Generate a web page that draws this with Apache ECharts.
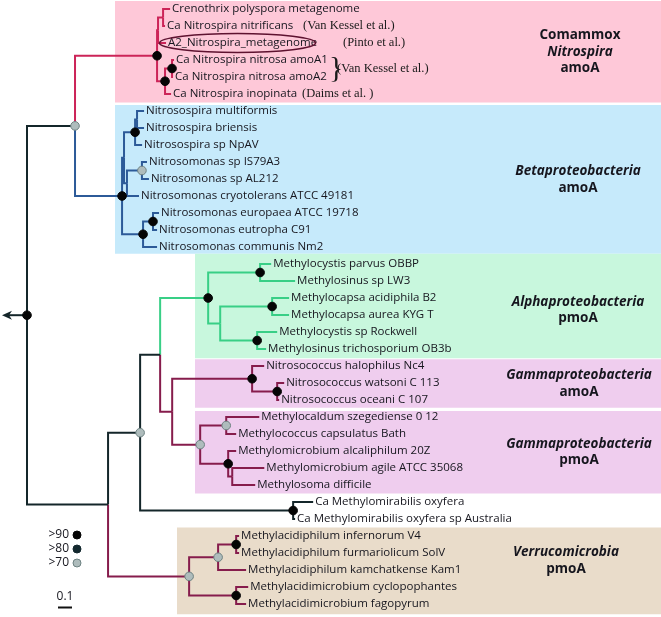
<!DOCTYPE html>
<html><head><meta charset="utf-8">
<script src="https://cdn.jsdelivr.net/npm/echarts@6/dist/echarts.min.js"></script>
<style>html,body{margin:0;padding:0;background:#fff}#c{width:661px;height:617px}</style>
</head><body><div id="c"></div>
<script>
// ---------------- DATA ----------------
// Tree in Newick form: branch lengths in substitutions/site, internal labels = "Clade|support"
// support codes: b = >90, k = >80, g = >70
const comammoxNewick = "(((Crenothrix polyspora metagenome:0.05,Ca Nitrospira nitrificans:0.014):0.036,A2_Nitrospira_metagenome:0.057):0.007,((Ca Nitrospira nitrosa amoA1:0.014,Ca Nitrospira nitrosa amoA2:0.007)b:0.05,Ca Nitrospira inopinata:0.043)b:0.057)Comammox|b:0.586";
const betaNewick = "((((Nitrosospira multiformis:0.05,Nitrosospira briensis:0.05):0.014,Nitrosospira sp NpAV:0.05)b:0.079,((Nitrosomonas sp IS79A3:0.036,Nitrosomonas sp AL212:0.05)g:0.107,Nitrosomonas cryotolerans ATCC 49181:0.086):0.021):0.014,((Nitrosomonas europaea ATCC 19718:0.043,Nitrosomonas eutropha C91:0.029)b:0.071,Nitrosomonas communis Nm2:0.1)b:0.15)Beta|b:0.336";
const alphaNewick = "((Methylocystis parvus OBBP:0.079,Methylosinus sp LW3:0.25)b:0.371,((Methylocapsa acidiphila B2:0.121,Methylocapsa aurea KYG T:0.121)b:0.371,(Methylocystis sp Rockwell:0.143,Methylosinus trichosporium OB3b:0.064)b:0.264):0.086)Alpha|b:0.343";
const gammaAmoNewick = "(Nitrosococcus halophilus Nc4:0.086,(Nitrosococcus watsoni C 113:0.05,Nitrosococcus oceani C 107:0.014)b:0.179)b:0.571";
const gammaPmoNewick = "((Methylocaldum szegediense 0 12:0.236,Methylococcus capsulatus Bath:0.071)g:0.186,(Methylomicrobium alcaliphilum 20Z:0.057,(Methylomicrobium agile ATCC 35068:0.229,Methylosoma difficile:0.164):0.029)b:0.2)g:0.2";
const mirabilisNewick = "(Ca Methylomirabilis oxyfera:0.143,Ca Methylomirabilis oxyfera sp Australia:0.014)b:1.093";
const verrucoNewick = "(((Methylacidiphilum infernorum V4:0.021,Methylacidiphilum furmariolicum SolV:0.021)b:0.129,Methylacidiphilum kamchatkense Kam1:0.2)g:0.207,(Methylacidimicrobium cyclopophantes:0.086,Methylacidimicrobium fagopyrum:0.071)b:0.336)Verruco|g:0.579";
const treeNewick =
  "((" + comammoxNewick + "," + betaNewick + ")g:0.343," +
  "(((" + alphaNewick + ",(" + gammaAmoNewick + "," + gammaPmoNewick + ")Gamma:0.086):0.143," +
  mirabilisNewick + ")g:0.229," + verrucoNewick + "):0.579)Root|b;";

const supportCodes = ['b', 'k', 'g'];
const supportLabels = ['>90', '>80', '>70'];
const scaleBarValue = 0.1;

const groups = [
  { first: 'Crenothrix polyspora metagenome', last: 'Ca Nitrospira inopinata', title: [['n','Comammox'],['i','Nitrospira'],['n','amoA']] },
  { first: 'Nitrosospira multiformis', last: 'Nitrosomonas communis Nm2', title: [['i','Betaproteobacteria'],['n','amoA']] },
  { first: 'Methylocystis parvus OBBP', last: 'Methylosinus trichosporium OB3b', title: [['i','Alphaproteobacteria'],['n','pmoA']] },
  { first: 'Nitrosococcus halophilus Nc4', last: 'Nitrosococcus oceani C 107', title: [['i','Gammaproteobacteria'],['n','amoA']] },
  { first: 'Methylocaldum szegediense 0 12', last: 'Methylosoma difficile', title: [['i','Gammaproteobacteria'],['n','pmoA']] },
  { first: 'Methylacidiphilum infernorum V4', last: 'Methylacidimicrobium fagopyrum', title: [['i','Verrucomicrobia'],['n','pmoA']] }
];
const citations = [
  { leaves: ['Ca Nitrospira nitrificans'], text: '(Van Kessel et al.)' },
  { leaves: ['A2_Nitrospira_metagenome'], text: '(Pinto et al.)' },
  { leaves: ['Ca Nitrospira nitrosa amoA1', 'Ca Nitrospira nitrosa amoA2'], text: '(Van Kessel et al.)' },
  { leaves: ['Ca Nitrospira inopinata'], text: '(Daims et al. )' }
];
const highlightedLeaf = 'A2_Nitrospira_metagenome';

// ---------------- STYLE ----------------
const cladeColors = { Root: '#14262a', Comammox: '#cc2458', Beta: '#2c5a98', Alpha: '#38cf86', Gamma: '#861c4c', Verruco: '#861c4c' };
const boxStyle = [
  { left: 115, padTop: 0.47, padBottom: 0.5, fill: '#fec8d8', labelX: 580, dy: 0 },
  { left: 115, padTop: 0.35, padBottom: 0.4, fill: '#c6eafb', labelX: 578, dy: 0 },
  { left: 195, padTop: 0.6, padBottom: 0.55, fill: '#c8f7dd', labelX: 578, dy: 4 },
  { left: 195, padTop: 0.4, padBottom: 0.45, fill: '#efcdee', labelX: 579, dy: 0 },
  { left: 195, padTop: 0.35, padBottom: 0.5, fill: '#efcdee', labelX: 579, dy: 0 },
  { left: 177, padTop: 0.5, padBottom: 0.6, fill: '#e9dcca', labelX: 566, dy: -10 }
];
const citationX = [303, 343, 337, 302];
const FONT = '"Open Sans", Lato, sans-serif';
const TEXTC = '#16161e';

// ---------------- TREE LAYOUT ----------------
function parseNewick(s) {
  let i = 0;
  function node() {
    const n = { children: [], name: '', len: 0 };
    if (s[i] === '(') {
      i++;
      n.children.push(node());
      while (s[i] === ',') { i++; n.children.push(node()); }
      i++;
    }
    let lab = '';
    while (i < s.length && !':,);'.includes(s[i])) { lab += s[i]; i++; }
    n.name = lab.trim();
    if (s[i] === ':') {
      i++; let num = '';
      while (i < s.length && !',);'.includes(s[i])) { num += s[i]; i++; }
      n.len = parseFloat(num);
    }
    return n;
  }
  return node();
}
const tree = parseNewick(treeNewick);
const leaves = [], internals = [], edges = [];
function layout(n, px, color) {
  n.x = px + n.len;
  let clade = null, support = null;
  if (n.children.length) {
    n.name.split('|').forEach(p => { if (supportCodes.includes(p)) support = p; else if (p) clade = p; });
  }
  n.color = clade ? cladeColors[clade] : color;
  n.support = support;
  if (n.children.length) {
    n.children.forEach(c => layout(c, n.x, n.color));
    n.y = (n.children[0].y + n.children[n.children.length - 1].y) / 2;
    internals.push(n);
  } else { n.y = leaves.length; leaves.push(n); }
}
layout(tree, 0, cladeColors.Root);
internals.forEach(n => n.children.forEach(c => edges.push({ value: [n.x, n.y, c.x, c.y], color: c.color })));
const leafIndex = {}; leaves.forEach((l, i) => leafIndex[l.name] = i);
const supportNodes = internals.filter(n => n.support);

// ---------------- CHART ----------------
const chart = echarts.init(document.getElementById('c'));
const dotStyle = {
  b: { fill: '#050505', stroke: '#050505' },
  k: { fill: '#13282e', stroke: '#13282e' },
  g: { fill: '#aebcbc', stroke: '#6e8282' }
};
function dot(cx, cy, code, r) {
  return { type: 'circle', shape: { cx: cx, cy: cy, r: r || 4.3 }, style: { fill: dotStyle[code].fill, stroke: dotStyle[code].stroke, lineWidth: 1 } };
}
chart.setOption({
  animation: false,
  grid: { left: 27, right: 4, top: 9, bottom: 13 },
  xAxis: { type: 'value', min: 0, max: 4.5, show: false },
  yAxis: { type: 'value', min: 0, max: 35, inverse: true, show: false },
  series: [
    { // clade boxes + titles
      type: 'custom', z: 1,
      data: groups.map((g, i) => [leafIndex[g.first], leafIndex[g.last], i]),
      renderItem: function (params, api) {
        const st = boxStyle[params.dataIndex], g = groups[params.dataIndex];
        const top = api.coord([0, api.value(0) - st.padTop])[1];
        const bot = api.coord([0, api.value(1) + st.padBottom])[1];
        const text = g.title.map(t => '{' + t[0] + '|' + t[1] + '}').join('\n');
        return { type: 'group', children: [
          { type: 'rect', shape: { x: st.left, y: top, width: 661 - st.left, height: bot - top }, style: { fill: st.fill } },
          { type: 'text', x: st.labelX, y: (top + bot) / 2 + st.dy, style: {
            text: text, align: 'center', verticalAlign: 'middle', fill: TEXTC,
            rich: { n: { fontFamily: FONT, fontWeight: 'bold', fontSize: 13.5, lineHeight: 16.5, fill: TEXTC },
                    i: { fontFamily: FONT, fontWeight: 'bold', fontStyle: 'italic', fontSize: 13.5, lineHeight: 16.5, fill: TEXTC } } } }
        ] };
      }
    },
    { // branches
      type: 'custom', z: 3,
      data: edges.map(e => e.value),
      renderItem: function (params, api) {
        const p = api.coord([api.value(0), api.value(1)]);
        const c = api.coord([api.value(2), api.value(3)]);
        return { type: 'polyline', shape: { points: [p, [p[0], c[1]], c] },
          style: { stroke: edges[params.dataIndex].color, lineWidth: 2, fill: null, lineJoin: 'miter' } };
      }
    },
    { // root arrow
      type: 'custom', z: 3,
      data: [[tree.x, tree.y]],
      renderItem: function (params, api) {
        const p = api.coord([api.value(0), api.value(1)]);
        const tip = p[0] - 25;
        return { type: 'group', children: [
          { type: 'line', shape: { x1: p[0], y1: p[1], x2: tip + 4, y2: p[1] }, style: { stroke: cladeColors.Root, lineWidth: 2 } },
          { type: 'polygon', shape: { points: [[tip, p[1]], [tip + 10, p[1] - 4.5], [tip + 7, p[1]], [tip + 10, p[1] + 4.5]] }, style: { fill: cladeColors.Root } }
        ] };
      }
    },
    { // support dots
      type: 'custom', z: 5,
      data: supportNodes.map(n => [n.x, n.y]),
      renderItem: function (params, api) {
        const p = api.coord([api.value(0), api.value(1)]);
        return dot(p[0], p[1], supportNodes[params.dataIndex].support);
      }
    },
    { // leaf labels
      type: 'custom', z: 6,
      data: leaves.map(l => [l.x, l.y]),
      renderItem: function (params, api) {
        const p = api.coord([api.value(0), api.value(1)]);
        return { type: 'text', x: p[0] + 2, y: p[1], style: { text: leaves[params.dataIndex].name, fontFamily: FONT, fontSize: 11.5, fill: TEXTC, verticalAlign: 'middle' } };
      }
    },
    { // citations, brace
      type: 'custom', z: 6,
      data: citations.map(c => [leafIndex[c.leaves[0]], leafIndex[c.leaves[c.leaves.length - 1]]]),
      renderItem: function (params, api) {
        const y0 = api.coord([0, api.value(0)])[1], y1 = api.coord([0, api.value(1)])[1];
        const x = citationX[params.dataIndex];
        const ch = [{ type: 'text', x: x, y: (y0 + y1) / 2, style: { text: citations[params.dataIndex].text, fontFamily: '"Liberation Serif", serif', fontSize: 12.5, fill: '#1a1a1a', verticalAlign: 'middle' } }];
        if (y1 > y0) {
          ch.push({ type: 'text', x: x - 8, y: (y0 + y1) / 2 + 1, style: { text: '}', fontFamily: '"Liberation Serif", serif', fontSize: 30, fill: '#1a1a1a', verticalAlign: 'middle' } });
        }
        return { type: 'group', children: ch };
      }
    },
    { // highlight ellipse
      type: 'custom', z: 7,
      data: [[leafIndex[highlightedLeaf]]],
      renderItem: function (params, api) {
        const y = api.coord([0, api.value(0)])[1];
        return { type: 'ellipse', shape: { cx: 237.5, cy: y, rx: 78, ry: 9.5 }, style: { fill: null, stroke: '#5e1230', lineWidth: 1.6 } };
      }
    },
    { // legend + scale bar
      type: 'custom', z: 7,
      data: [[0, scaleBarValue]],
      renderItem: function (params, api) {
        const w = api.coord([api.value(1), 0])[0] - api.coord([api.value(0), 0])[0];
        const ch = [];
        supportLabels.forEach((lab, i) => {
          ch.push({ type: 'text', x: 69, y: 535 + i * 14, style: { text: lab, fontFamily: FONT, fontSize: 12, fill: TEXTC, align: 'right', verticalAlign: 'middle' } });
          ch.push(dot(77, 535 + i * 14, supportCodes[i], 4));
        });
        ch.push({ type: 'text', x: 65, y: 597, style: { text: String(scaleBarValue), fontFamily: FONT, fontSize: 12, fill: TEXTC, align: 'center', verticalAlign: 'middle' } });
        ch.push({ type: 'line', shape: { x1: 58, y1: 607.5, x2: 58 + w, y2: 607.5 }, style: { stroke: '#111', lineWidth: 2 } });
        return { type: 'group', children: ch };
      }
    }
  ]
});
</script></body></html>
